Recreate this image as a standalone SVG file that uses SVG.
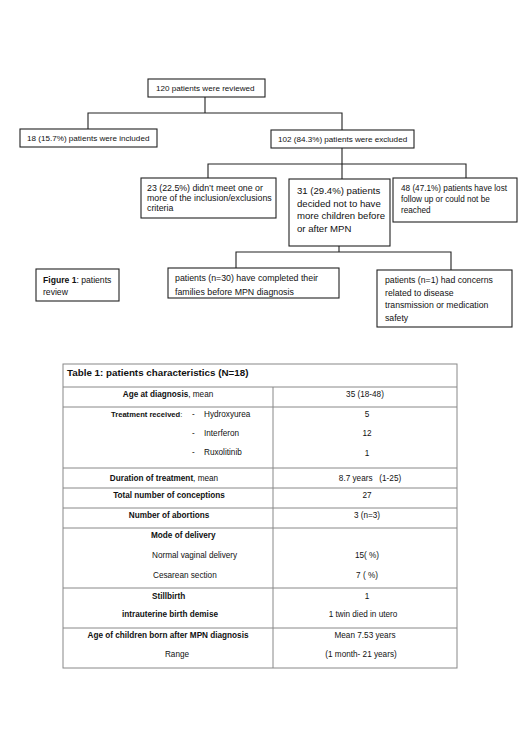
<svg xmlns="http://www.w3.org/2000/svg" width="520" height="736" viewBox="0 0 520 736">
<style>
.bx{fill:#fff;stroke:#222;stroke-width:1.1}
.cn{fill:none;stroke:#222;stroke-width:1.1}
.tl{fill:none;stroke:#888;stroke-width:1}
text{font-family:"Liberation Sans",Arial,sans-serif;fill:#111}
.b{font-weight:bold}
.m{text-anchor:middle}
</style>
<rect width="520" height="736" fill="#fff"/>
<g id="connectors">
<path class="cn" d="M205,97V113M88,129V113H342V130"/>
<path class="cn" d="M342,148V164M208,178V164H466V178M342,164V179"/>
<path class="cn" d="M339,246V252M236,268V252H451V270"/>
</g>
<g id="n120"><rect class="bx" x="148" y="79" width="117" height="18"/><text x="156" y="91" font-size="8.1">120 patients were reviewed</text></g>
<g id="n18"><rect class="bx" x="20" y="129" width="137" height="18"/><text x="27" y="141" font-size="8.1">18 (15.7%) patients were included</text></g>
<g id="n102"><rect class="bx" x="271" y="130" width="143" height="18"/><text x="278" y="142" font-size="8.1">102 (84.3%) patients were excluded</text></g>
<g id="n23"><rect class="bx" x="141" y="178" width="135" height="40"/>
<text x="147" font-size="8.8"><tspan x="147" y="191">23 (22.5%) didn’t meet one or</tspan><tspan x="147" y="201">more of the inclusion/exclusions</tspan><tspan x="147" y="211">criteria</tspan></text></g>
<g id="n31"><rect class="bx" x="289" y="179" width="101" height="67"/>
<text font-size="9.6"><tspan x="297" y="194">31 (29.4%) patients</tspan><tspan x="297" y="206.5">decided not to have</tspan><tspan x="297" y="219">more children before</tspan><tspan x="297" y="231.5">or after MPN</tspan></text></g>
<g id="n48"><rect class="bx" x="393" y="178" width="124" height="44"/>
<text font-size="8.2"><tspan x="401" y="191">48 (47.1%) patients have lost</tspan><tspan x="401" y="202">follow up or could not be</tspan><tspan x="401" y="213">reached</tspan></text></g>
<g id="fig1"><rect class="bx" x="36" y="269" width="83" height="32"/>
<text font-size="8.6"><tspan x="43" y="283"><tspan class="b">Figure 1</tspan>: patients</tspan><tspan x="43" y="295">review</tspan></text></g>
<g id="n30"><rect class="bx" x="168" y="268" width="171" height="30"/>
<text font-size="8.8"><tspan x="175" y="281">patients (n=30) have completed their</tspan><tspan x="175" y="295">families before MPN diagnosis</tspan></text></g>
<g id="n1"><rect class="bx" x="377" y="270" width="135" height="57"/>
<text font-size="8.7"><tspan x="385" y="283">patients (n=1) had concerns</tspan><tspan x="385" y="295.5">related to disease</tspan><tspan x="385" y="308">transmission or medication</tspan><tspan x="385" y="320.5">safety</tspan></text></g>
<g id="table1">
<rect class="tl" x="63" y="364" width="394" height="304"/>
<path class="tl" d="M63,387H457M63,407H457M63,468H457M63,488H457M63,508H457M63,528H457M63,588H457M63,628H457M273,387V668"/>
<text x="67" y="376" font-size="9.8" class="b">Table 1: patients characteristics (N=18)</text>
<g font-size="8.2">
<text x="168" y="397" class="m"><tspan class="b">Age at diagnosis</tspan>, mean</text>
<text x="365" y="397" class="m">35 (18-48)</text>
<text x="111" y="417" font-size="7.6"><tspan class="b">Treatment received</tspan>:</text>
<text x="192" y="417">-</text><text x="204" y="417">Hydroxyurea</text>
<text x="192" y="436">-</text><text x="204" y="436">Interferon</text>
<text x="192" y="455">-</text><text x="204" y="455">Ruxolitinib</text>
<text x="367" y="417" class="m">5</text>
<text x="367" y="436" class="m">12</text>
<text x="367" y="456" class="m">1</text>
<text x="164" y="481" class="m"><tspan class="b">Duration of treatment</tspan>, mean</text>
<text x="370" y="481" class="m" xml:space="preserve">8.7 years   (1-25)</text>
<text x="169" y="498" class="m b">Total number of conceptions</text>
<text x="367" y="498" class="m">27</text>
<text x="169" y="518" class="m b">Number of abortions</text>
<text x="367" y="518" class="m">3 (n=3)</text>
<text x="151" y="538" class="b">Mode of delivery</text>
<text x="152" y="558">Normal vaginal delivery</text>
<text x="153" y="578">Cesarean section</text>
<text x="367" y="558" class="m">15( %)</text>
<text x="367" y="578" class="m">7 ( %)</text>
<text x="152" y="599" class="b">Stillbirth</text>
<text x="367" y="599" class="m">1</text>
<text x="170" y="617" class="m b">intrauterine birth demise</text>
<text x="363" y="617" class="m">1 twin died in utero</text>
<text x="168" y="638" class="m b">Age of children born after MPN diagnosis</text>
<text x="365" y="638" class="m">Mean 7.53 years</text>
<text x="177" y="657" class="m">Range</text>
<text x="361" y="657" class="m">(1 month- 21 years)</text>
</g>
</g>
</svg>
